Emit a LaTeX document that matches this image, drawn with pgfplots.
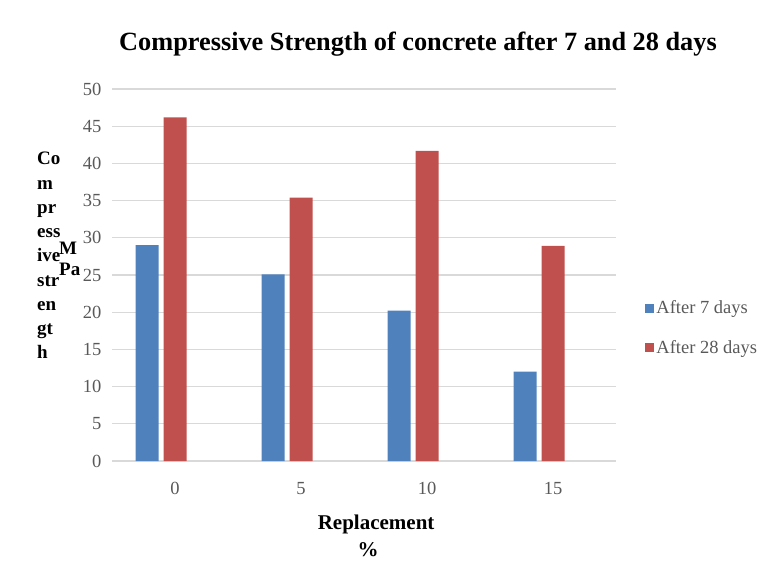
\documentclass[border=0pt]{standalone}
\usepackage{pgfplots}
\pgfplotsset{compat=1.18}
\usepackage{fontspec}
\setmainfont{Liberation Serif}
\definecolor{blue7}{HTML}{4F81BD}
\definecolor{red28}{HTML}{C0504D}
\definecolor{gridgray}{HTML}{D9D9D9}
\definecolor{ticktext}{HTML}{595959}

\pgfplotstableread{
x  d7    d28
0  29.0  46.2
1  25.1  35.4
2  20.2  41.7
3  12.0  28.9
}\strength

\begin{document}
\begin{tikzpicture}[x=1pt,y=1pt]
\path[use as bounding box] (0,0) rectangle (759,586);
\begin{axis}[
  at={(112pt,125pt)}, anchor=south west,
  scale only axis, width=504pt, height=372pt,
  ybar, bar width=23pt,
  xmin=-0.5, xmax=3.5, ymin=0, ymax=50,
  xtick={0,1,2,3}, xticklabels={0,5,10,15},
  ytick={0,5,...,50},
  ymajorgrids, grid style={gridgray, line width=1.3pt},
  axis x line*=bottom, axis y line*=left,
  x axis line style={gridgray, line width=1.3pt, -},
  y axis line style={draw=none},
  major tick length=0pt,
  tick label style={font=\fontsize{18.5}{22}\selectfont, text=ticktext},
  yticklabel style={xshift=-7pt},
  xticklabel style={yshift=-18pt},
  /pgf/number format/assume math mode=true,
  xlabel={Replacement\\\%\hspace*{16pt}},
  xlabel style={at={(axis description cs:0.524,-0.135)}, anchor=north, align=center,
    font=\fontsize{21}{27}\selectfont\bfseries},
  legend style={at={(axis description cs:1.058,0.358)}, anchor=west, draw=none, fill=none,
    font=\fontsize{18.5}{22}\selectfont, text=ticktext, row sep=21pt, inner sep=0pt},
  legend cell align=left,
]
\addplot[fill=blue7, draw=none, bar shift=-28pt,
  legend image code/.code={\fill[blue7] (0pt,-4.5pt) rectangle (9pt,4.5pt);}]
  table[x=x, y=d7] {\strength};
\addplot[fill=red28, draw=none, bar shift=0pt,
  legend image code/.code={\fill[red28] (0pt,-4.5pt) rectangle (9pt,4.5pt);}]
  table[x=x, y=d28] {\strength};
\legend{After 7 days, After 28 days}
\end{axis}
\node[font=\fontsize{26.3}{30}\selectfont\bfseries] at (418,542) {Compressive Strength of concrete after 7 and 28 days};
\node[font=\fontsize{19}{24.25}\selectfont\bfseries, align=left, anchor=north west, inner sep=0pt]
  at (37,434) {Co\\m\\pr\\ess\\ive\\str\\en\\gt\\h};
\node[font=\fontsize{19}{21}\selectfont\bfseries, align=left, anchor=north west, inner sep=0pt]
  at (59,344) {M\\Pa};
\end{tikzpicture}
\end{document}
